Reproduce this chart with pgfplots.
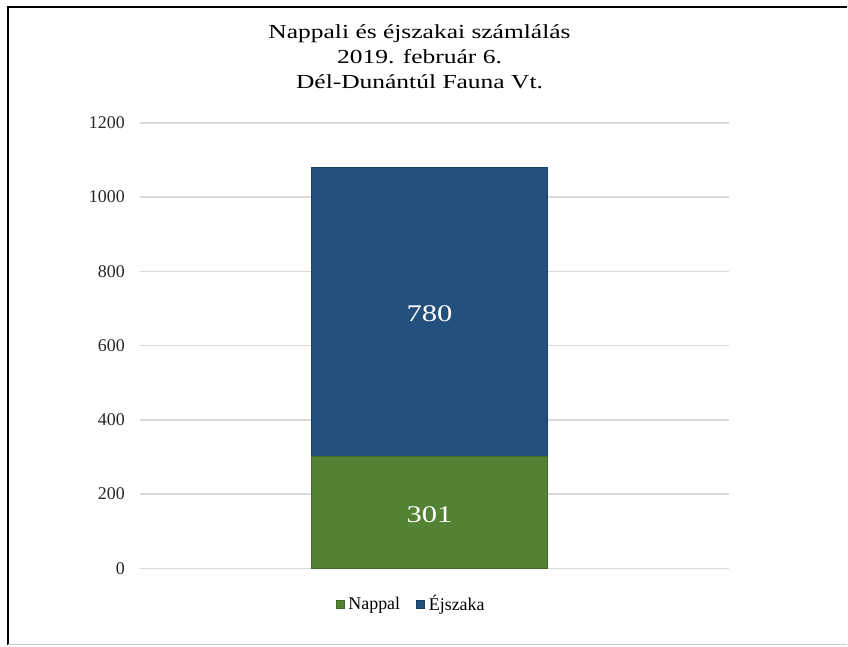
\documentclass[border=0pt]{standalone}
\usepackage{pgfplots}
\pgfplotsset{compat=1.18}
\usepackage{fontspec}
\setmainfont{Liberation Serif}
\newfontfamily\widefont[FakeStretch=1.28]{Liberation Serif}

\definecolor{nappal}{HTML}{548235}
\definecolor{ejszaka}{HTML}{23507C}
\definecolor{gridgray}{HTML}{D9D9D9}

\begin{document}
\begin{tikzpicture}
% canvas, 1px = 0.5bp
\path[fill=white] (0,0) rectangle (424bp,323bp);
\draw[black, line width=1bp] (4bp,0) -- (4bp,319.5bp) -- (424bp,319.5bp);
\draw[gray!40, line width=0.5bp] (4bp,0.5bp) -- (424bp,0.5bp);

\begin{axis}[
    at={(70bp,38.5bp)}, anchor=south west,
    scale only axis,
    width=295bp, height=223bp,
    xmin=0, xmax=1,
    ymin=0, ymax=1200,
    ytick={0,200,...,1200},
    axis x line=none,
    axis y line*=left,
    y axis line style={draw=none},
    major tick length=0pt,
    ymajorgrids,
    grid style={gridgray, line width=0.8bp},
    yticklabel style={font=\fontsize{9}{10}\selectfont, text=black!85, xshift=-4bp},
    /pgf/number format/assume math mode=true,
    /pgf/number format/1000 sep={},
    ybar stacked,
    bar width=118bp,
    legend style={
        at={(0.462,-0.081)}, anchor=center,
        draw=none, fill=none,
        legend columns=2,
        font=\fontsize{9}{10}\selectfont,
        /tikz/every even column/.append style={column sep=6bp},
        inner sep=0pt,
    },
    legend image code/.code={
        \fill[#1] (0bp,-2bp) rectangle (4bp,2bp);
    },
]
\addplot[fill=nappal, draw=nappal!80!black] coordinates {(0.4915,301)};
\addlegendentry{Nappal}
\addplot[fill=ejszaka, draw=ejszaka!80!black] coordinates {(0.4915,780)};
\addlegendentry{Éjszaka}

\coordinate (lblA) at (axis cs:0.4915,145);
\coordinate (lblB) at (axis cs:0.4915,685);
\end{axis}

\node[text=white, font=\widefont\fontsize{12}{13}\selectfont] at (lblA) {301};
\node[text=white, font=\widefont\fontsize{12}{13}\selectfont] at (lblB) {780};

\node[align=center, font=\widefont\fontsize{10}{12.5}\selectfont, anchor=center]
    at (210bp,294.5bp) {Nappali és éjszakai számlálás\\2019. február 6.\\Dél-Dunántúl Fauna Vt.};
\end{tikzpicture}
\end{document}
